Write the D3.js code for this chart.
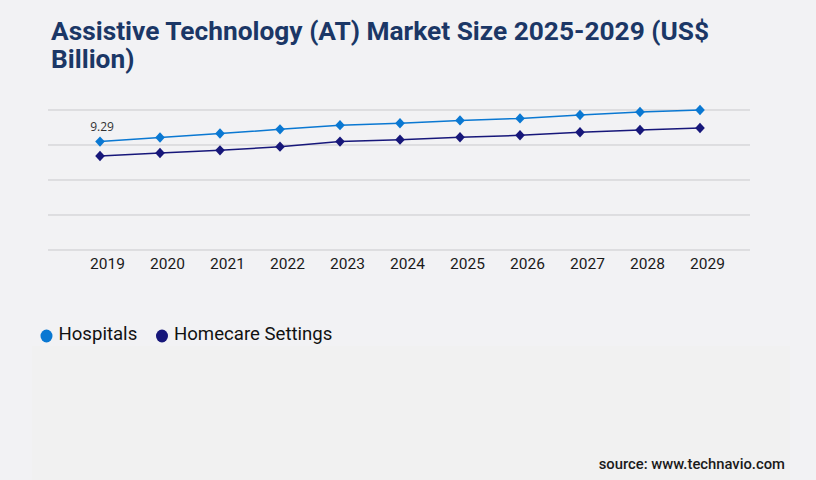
<!DOCTYPE html>
<html>
<head>
<meta charset="utf-8">
<script src="https://cdn.jsdelivr.net/npm/d3@7"></script>
<style>
  html, body { margin: 0; padding: 0; background: #f2f2f4; }
  svg { display: block; }
</style>
</head>
<body>
<svg id="chart" width="816" height="480"></svg>
<script>
const years = ["2019","2020","2021","2022","2023","2024","2025","2026","2027","2028","2029"];
const hospitals = [9.29, 9.64, 9.99, 10.34, 10.70, 10.86, 11.11, 11.28, 11.57, 11.83, 12.0];
const homecare  = [8.06, 8.31, 8.54, 8.86, 9.29, 9.46, 9.66, 9.83, 10.09, 10.29, 10.46];
const yTicks = [0, 3, 6, 9, 12];
const seriesNames = ["Hospitals", "Homecare Settings"];
const seriesColors = ["#0a78d2", "#17177a"];
const titleLines = ["Assistive Technology (AT) Market Size 2025-2029 (US$", "Billion)"];
const sourceText = "source: www.technavio.com";

const svg = d3.select("#chart");

// lower panel
svg.append("rect").attr("x", 32).attr("y", 346).attr("width", 758).attr("height", 134).attr("fill", "#f1f1f1");

// title
const title = svg.append("text").attr("x", 51).attr("y", 40)
  .attr("font-family", "Roboto").attr("font-weight", 700).attr("font-size", 26.3)
  .attr("fill", "#1b3766");
titleLines.forEach((l, i) => title.append("tspan").attr("x", 51).attr("dy", i === 0 ? 0 : 28).text(l));

const x = d3.scalePoint().domain(years).range([100, 700]);
const y = d3.scaleLinear().domain([0, 12]).range([250, 110]);

// gridlines
svg.append("g").selectAll("line").data(yTicks).join("line")
  .attr("x1", 48).attr("x2", 750)
  .attr("y1", d => y(d)).attr("y2", d => y(d))
  .attr("stroke", "#c9c9cc").attr("stroke-width", 1);

// x axis labels
const xAxis = d3.axisBottom(x).tickSize(0).tickPadding(0);
const gx = svg.append("g").attr("transform", "translate(7,258)").call(xAxis);
gx.select(".domain").remove();
gx.selectAll("text").attr("font-family", "Roboto").attr("font-size", 15.5).attr("fill", "#1a1a1a");

const data = [hospitals, homecare];
const line = d3.line().x((d, i) => x(years[i])).y(d => y(d));
const diamondPath = "M0,-5.2L4.8,0L0,5.2L-4.8,0Z";

data.forEach((vals, si) => {
  svg.append("path").datum(vals).attr("d", line)
    .attr("fill", "none").attr("stroke", seriesColors[si]).attr("stroke-width", 1.5);
  svg.append("g").selectAll("path").data(vals).join("path")
    .attr("d", diamondPath)
    .attr("transform", (d, i) => `translate(${x(years[i])},${y(d)})`)
    .attr("fill", seriesColors[si]);
});

// data label
svg.append("text").attr("x", x(years[0]) + 2).attr("y", y(hospitals[0]) - 11)
  .attr("text-anchor", "middle")
  .attr("font-family", "Open Sans").attr("font-size", 12).attr("fill", "#333")
  .text(hospitals[0].toFixed(2));

// legend
const legend = svg.append("g");
const legX = [46.5, 162];
seriesNames.forEach((n, i) => {
  legend.append("ellipse").attr("cx", legX[i]).attr("cy", 336).attr("rx", 6).attr("ry", 6.5).attr("fill", seriesColors[i]);
  legend.append("text").attr("x", legX[i] + 12).attr("y", 340)
    .attr("font-family", "Roboto").attr("font-size", 18.6).attr("fill", "#111").text(n);
});

// source
svg.append("text").attr("x", 785).attr("y", 469).attr("text-anchor", "end")
  .attr("font-family", "Roboto").attr("font-weight", 500).attr("font-size", 14.8).attr("fill", "#1a1a1a")
  .text(sourceText);
</script>
</body>
</html>
